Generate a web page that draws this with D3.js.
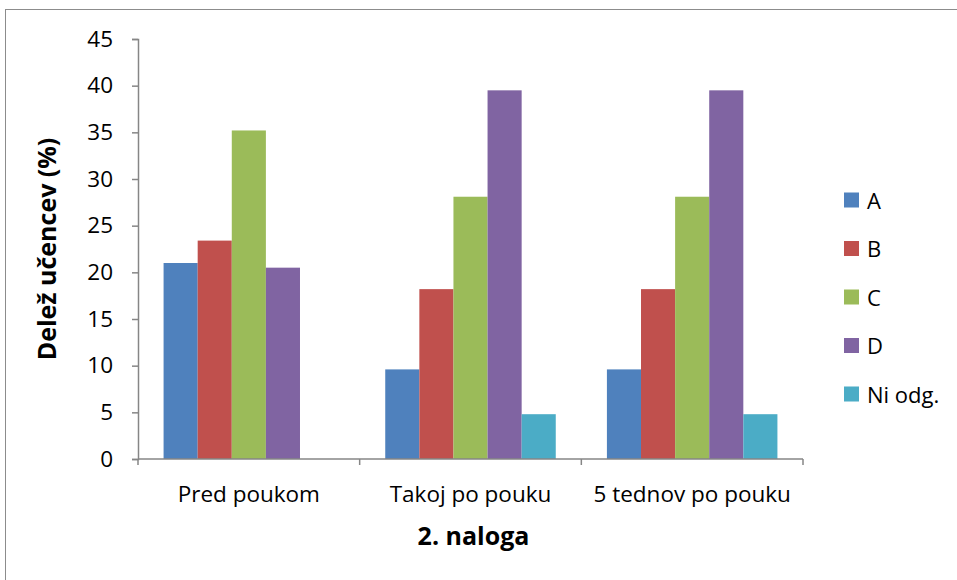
<!DOCTYPE html>
<html>
<head>
<meta charset="utf-8">
<script src="https://cdn.jsdelivr.net/npm/d3@7"></script>
<style>
  html, body { margin: 0; padding: 0; background: #fff; }
  svg { display: block; }
  text { font-family: "Open Sans", Lato, sans-serif; fill: #000; }
</style>
</head>
<body>
<svg id="chart" width="957" height="580"></svg>
<script>
// Categories (phases) and answer series
const categories = ["Pred poukom", "Takoj po pouku", "5 tednov po pouku"];
const seriesNames = ["A", "B", "C", "D", "Ni odg."];
const seriesA = [21.0, 9.6, 9.6];
const seriesB = [23.4, 18.2, 18.2];
const seriesC = [35.2, 28.1, 28.1];
const seriesD = [20.5, 39.5, 39.5];
const seriesNi = [0, 4.8, 4.8];
const colors = ["#4F81BD", "#C0504D", "#9BBB59", "#8064A2", "#4BACC6"];
const yTicks = [0, 5, 10, 15, 20, 25, 30, 35, 40, 45];

const allSeries = [seriesA, seriesB, seriesC, seriesD, seriesNi];
const FONT = "'Open Sans', Lato, sans-serif";
const LABEL_SIZE = 22.5;
const TITLE_SIZE = 25;

const svg = d3.select("#chart");
const margin = { left: 138, right: 154, top: 39, bottom: 121 };
const W = 957, H = 580;
const plotW = W - margin.left - margin.right;
const plotH = H - margin.top - margin.bottom;

// Outer chart frame
svg.append("rect")
  .attr("x", 5.5).attr("y", 9.5)
  .attr("width", W + 10).attr("height", H + 10)
  .attr("fill", "#fff").attr("stroke", "#8c8c8c").attr("stroke-width", 1);

const g = svg.append("g").attr("transform", `translate(${margin.left},${margin.top})`);

const x0 = d3.scaleBand().domain(categories).range([0, plotW]).paddingInner(0).paddingOuter(0);
const x1 = d3.scaleBand().domain(seriesNames)
  .range([0, x0.bandwidth()])
  .paddingInner(0)
  .paddingOuter(0.75);
const y = d3.scaleLinear().domain([0, 45]).range([plotH, 0]);

// Bars
categories.forEach((cat, ci) => {
  const grp = g.append("g").attr("transform", `translate(${x0(cat)},0)`);
  seriesNames.forEach((s, si) => {
    const v = allSeries[si][ci];
    if (v <= 0) return;
    grp.append("rect")
      .attr("x", x1(s))
      .attr("y", y(v))
      .attr("width", x1.bandwidth())
      .attr("height", plotH - y(v))
      .attr("fill", colors[si]);
  });
});

// Y axis
const yAxis = d3.axisLeft(y).tickValues(yTicks).tickSize(6).tickPadding(19).tickFormat(d3.format("d"));
const ya = g.append("g").call(yAxis);
ya.select(".domain").attr("stroke", "#868686").attr("stroke-width", 1.5);
ya.selectAll(".tick line").attr("stroke", "#868686").attr("stroke-width", 1.5);
ya.selectAll(".tick text").attr("font-size", LABEL_SIZE).attr("font-family", FONT).attr("fill", "#000");

// X axis with tick marks at category boundaries
const xa = g.append("g").attr("transform", `translate(0,${plotH})`);
xa.append("line").attr("x1", 0).attr("x2", plotW).attr("y1", 0).attr("y2", 0)
  .attr("stroke", "#868686").attr("stroke-width", 1.5);
const bounds = categories.map(c => x0(c)).concat([plotW]);
xa.selectAll("line.b").data(bounds).enter().append("line")
  .attr("class", "b")
  .attr("x1", d => d).attr("x2", d => d).attr("y1", 0).attr("y2", 6)
  .attr("stroke", "#868686").attr("stroke-width", 1.5);
xa.selectAll("text.cat").data(categories).enter().append("text")
  .attr("class", "cat")
  .attr("x", d => x0(d) + x0.bandwidth() / 2)
  .attr("y", 43)
  .attr("text-anchor", "middle")
  .attr("font-size", LABEL_SIZE)
  .text(d => d);

// Axis titles
svg.append("text")
  .attr("x", margin.left + plotW / 2 + 3).attr("y", 545)
  .attr("text-anchor", "middle").attr("font-size", TITLE_SIZE).attr("font-weight", "bold")
  .text("2. naloga");
svg.append("text")
  .attr("transform", `translate(56,${margin.top + plotH / 2}) rotate(-90)`)
  .attr("text-anchor", "middle").attr("font-size", TITLE_SIZE).attr("font-weight", "bold")
  .text("Delež učencev (%)");

// Legend
const legend = svg.append("g").attr("transform", "translate(844,200)");
seriesNames.forEach((s, i) => {
  const row = legend.append("g").attr("transform", `translate(0,${i * 48.5})`);
  row.append("rect").attr("x", 0).attr("y", -7.5).attr("width", 15).attr("height", 15).attr("fill", colors[i]);
  row.append("text").attr("x", 23).attr("y", 8.5).attr("font-size", 22).text(s);
});
</script>
</body>
</html>
